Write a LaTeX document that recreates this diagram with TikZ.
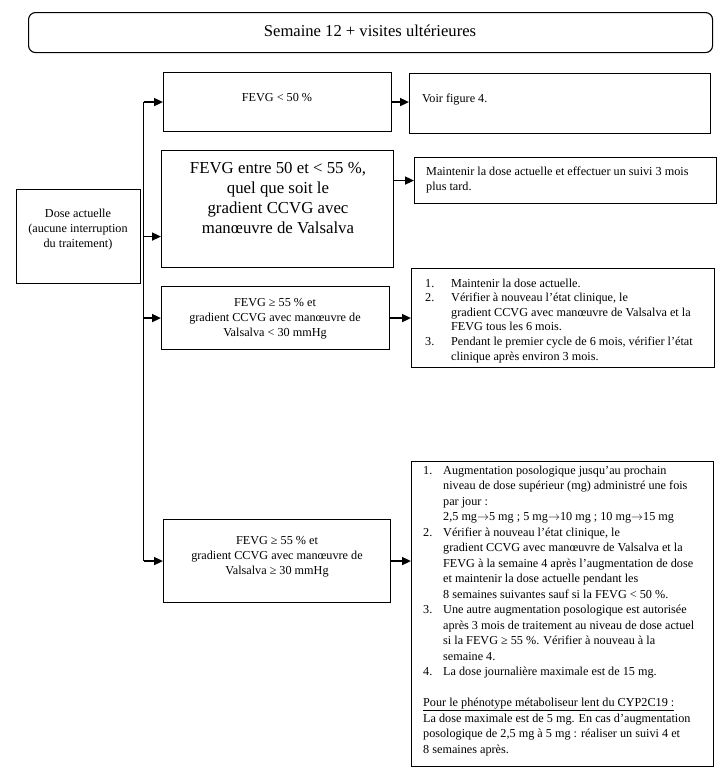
\documentclass[tikz,border=0pt]{standalone}
\usepackage{fontspec}
\setmainfont{Liberation Serif}
\usetikzlibrary{arrows.meta,calc}
\newcommand\fsmall{\fontsize{12.2}{15}\selectfont}
\newcommand\fbig{\fontsize{16.8}{20.3}\selectfont}
\newcommand\ftitle{\fontsize{16.6}{20}\selectfont}
\newcommand\toarr{\ensuremath{\rightarrow}}
\tikzset{
  box/.style={draw, line width=1.1pt, inner sep=0pt, anchor=north west},
  txt/.style={inner sep=0pt, font=\fsmall},
  conn/.style={line width=1.6pt},
  arr/.style={line width=1.6pt, -{Triangle[length=9pt,width=8pt]}},
}
\begin{document}
\begin{tikzpicture}[x=1pt,y=-1pt]
\useasboundingbox (0,0) rectangle (725,772);
% boxes
\node[box, rounded corners=7pt, minimum width=684pt, minimum height=40pt] (top) at (28,12) {};
\node[box, minimum width=124pt, minimum height=94pt] (dose) at (16,189) {};
\node[box, minimum width=228pt, minimum height=59pt] (A) at (163,72) {};
\node[box, minimum width=232pt, minimum height=117pt] (B) at (161,150) {};
\node[box, minimum width=228pt, minimum height=63pt] (C) at (161,286) {};
\node[box, minimum width=227pt, minimum height=83pt] (D) at (163,519) {};
\node[box, minimum width=301pt, minimum height=60pt] (E) at (409,73) {};
\node[box, minimum width=302pt, minimum height=46pt] (F) at (414,157) {};
\node[box, minimum width=303pt, minimum height=99pt] (G) at (411,268) {};
\node[box, minimum width=302pt, minimum height=305pt] (H) at (411,461) {};
% texts
\node[txt, font=\ftitle, anchor=base] (ttop) at (370,36) {Semaine 12 + visites ultérieures};
\node[txt, anchor=base] (tdose) at (78,217) {\begin{tabular}[t]{@{}c@{}}Dose actuelle\\(aucune interruption\\du traitement)\end{tabular}};
\node[txt, anchor=base] (tA) at (277,101) {FEVG < 50 \%};
\node[txt, font=\fbig, anchor=base] (tB) at (278,173) {\begin{tabular}[t]{@{}c@{}}FEVG entre 50 et < 55 \%,\\quel que soit le\\gradient CCVG avec\\manœuvre de Valsalva\end{tabular}};
\node[txt, anchor=base] (tC) at (275,306) {\begin{tabular}[t]{@{}c@{}}FEVG ≥ 55 \% et\\gradient CCVG avec manœuvre de\\Valsalva < 30 mmHg\end{tabular}};
\node[txt, anchor=base] (tD) at (277,544) {\begin{tabular}[t]{@{}c@{}}FEVG ≥ 55 \% et\\gradient CCVG avec manœuvre de\\Valsalva ≥ 30 mmHg\end{tabular}};
\node[txt, anchor=base west] (tE) at (422,102) {Voir figure 4.};
\node[txt, anchor=base west] (tF) at (426,175) {\begin{tabular}[t]{@{}l@{}}Maintenir la dose actuelle et effectuer un suivi 3 mois\\plus tard.\end{tabular}};
\node[txt, font=\fontsize{12.2}{14.6}\selectfont, anchor=base west] (tG) at (425,287) {\begin{tabular}[t]{@{}p{26pt}@{}l@{}}
1.&Maintenir la dose actuelle.\\
2.&Vérifier à nouveau l’état clinique, le\\
&gradient CCVG avec manœuvre de Valsalva et la\\
&FEVG tous les 6 mois.\\
3.&Pendant le premier cycle de 6 mois, vérifier l’état\\
&clinique après environ 3 mois.
\end{tabular}};
\node[txt, font=\fontsize{12.2}{15.5}\selectfont, anchor=base west] (tH) at (423,474) {\begin{tabular}[t]{@{}p{20pt}@{}l@{}}
1.&Augmentation posologique jusqu’au prochain\\
&niveau de dose supérieur (mg) administré une fois\\
&par jour :\\
&2,5 mg\toarr5 mg ; 5 mg\toarr10 mg ; 10 mg\toarr15 mg\\
2.&Vérifier à nouveau l’état clinique, le\\
&gradient CCVG avec manœuvre de Valsalva et la\\
&FEVG à la semaine 4 après l’augmentation de dose\\
&et maintenir la dose actuelle pendant les\\
&8 semaines suivantes sauf si la FEVG < 50 \%.\\
3.&Une autre augmentation posologique est autorisée\\
&après 3 mois de traitement au niveau de dose actuel\\
&si la FEVG ≥ 55 \%. Vérifier à nouveau à la\\
&semaine 4.\\
4.&La dose journalière maximale est de 15 mg.\\
\multicolumn{2}{@{}l@{}}{}\\
\multicolumn{2}{@{}l@{}}{\underline{Pour le phénotype métaboliseur lent du CYP2C19 :}}\\
\multicolumn{2}{@{}l@{}}{La dose maximale est de 5 mg. En cas d’augmentation}\\
\multicolumn{2}{@{}l@{}}{posologique de 2,5 mg à 5 mg : réaliser un suivi 4 et}\\
\multicolumn{2}{@{}l@{}}{8 semaines après.}
\end{tabular}};
% connectors
\coordinate (trunk) at ($(dose.east)+(2.5,0)$);
\draw[conn] (trunk |- A.west) -- (trunk |- D.west);
\draw[arr] (trunk |- A.west) -- (A.west);
\draw[arr] (trunk) -- (trunk -| B.west);
\draw[arr] (trunk |- C.west) -- (C.west);
\draw[arr] (trunk |- D.west) -- (D.west);
\draw[arr] (A.east) -- (A.east -| E.west);
\draw[arr] (B.east |- F.west) -- (F.west);
\draw[arr] (C.east) -- (C.east -| G.west);
\draw[arr] (D.east) -- (D.east -| H.west);
\end{tikzpicture}
\end{document}
